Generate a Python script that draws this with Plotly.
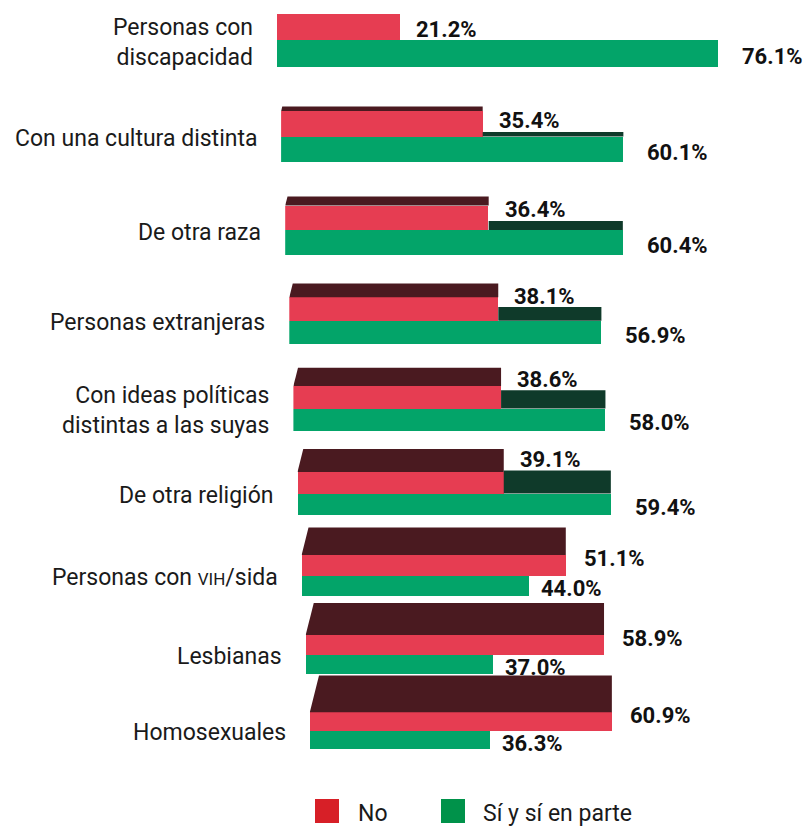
import plotly.graph_objects as go

# ---------------- data ----------------
categories = [
    "Personas con<br>discapacidad",
    "Con una cultura distinta",
    "De otra raza",
    "Personas extranjeras",
    "Con ideas políticas<br>distintas a las suyas",
    "De otra religión",
    "Personas con <span style='font-size:17px'>VIH</span>/sida",
    "Lesbianas",
    "Homosexuales",
]
no_values = [21.2, 35.4, 36.4, 38.1, 38.6, 39.1, 51.1, 58.9, 60.9]
si_values = [76.1, 60.1, 60.4, 56.9, 58.0, 59.4, 44.0, 37.0, 36.3]
series_names = ["No", "Sí y sí en parte"]

# ---------------- style ----------------
W, H = 803, 828
RED = "#E63D52"
RED_TOP = "#4A1A20"
GREEN = "#03A469"
GREEN_TOP = "#0F3A2A"
LEG_RED = "#D71F27"
LEG_GREEN = "#00924A"
FONT = "Roboto"
X_MAX = 80

fig = go.Figure()
layout_axes = {}
annotations = []


def top_face(x_start, value, y_front, depth, slant, color, xa, ya):
    """Visible part of the top face of a 3-D bar, in the row's data coordinates."""
    return go.Scatter(
        x=[x_start, value, value, x_start + slant, x_start],
        y=[y_front, y_front, y_front - depth, y_front - depth, y_front],
        mode="lines", fill="toself", fillcolor=color, line=dict(width=0),
        xaxis=xa, yaxis=ya, showlegend=False, hoverinfo="skip",
    )


for i, (cat, nv, sv) in enumerate(zip(categories, no_values, si_values)):
    # perspective: rows drift right, shrink and show a deeper top face further down
    left_px = 277 + 4.1 * i
    scale = 5.8 - 0.105 * i          # pixels per percentage point
    yb = 40 + 96.5 * i - 1.45 * i * (i - 1)
    h = 26.5 - i
    d = 4.6 * i
    slant = 0.25 * d / scale
    sfx = "" if i == 0 else str(i + 1)
    xa, ya = "x" + sfx, "y" + sfx
    layout_axes["xaxis" + sfx] = dict(
        domain=[left_px / W, (left_px + X_MAX * scale) / W],
        range=[0, X_MAX], visible=False, anchor=ya, fixedrange=True,
    )
    layout_axes["yaxis" + sfx] = dict(
        domain=[0, 1], range=[H, 0], visible=False, anchor=xa, fixedrange=True,
    )

    common = dict(orientation="h", xaxis=xa, yaxis=ya, showlegend=False,
                  hoverinfo="skip", marker_line_width=0)
    fig.add_trace(go.Bar(x=[sv], y=[yb + h / 2], width=[h],
                         marker_color=GREEN, **common))
    fig.add_trace(go.Bar(x=[nv], y=[yb - h / 2], width=[h],
                         marker_color=RED, **common))
    if d > 0:
        # green top face only shows where the green bar sticks out past the red one
        if sv > nv:
            fig.add_trace(top_face(nv, sv, yb, d, 0, GREEN_TOP, xa, ya))
        fig.add_trace(top_face(0, nv, yb - h, d, slant, RED_TOP, xa, ya))

    # value labels
    if sv > nv:
        red_lab_y, green_shift, red_shift = yb - d - 11, 22, 14
    else:
        red_lab_y, green_shift, red_shift = yb - h + 3, 10, 16
    annotations.append(dict(
        x=nv, y=red_lab_y, xref=xa, yref=ya,
        text=f"<b>{nv:.1f}%</b>", showarrow=False, xanchor="left", yanchor="middle",
        xshift=red_shift, font=dict(family=FONT, size=22, color="#111111")))
    annotations.append(dict(
        x=sv, y=yb + h / 2 + 3, xref=xa, yref=ya,
        text=f"<b>{sv:.1f}%</b>", showarrow=False, xanchor="left", yanchor="middle",
        xshift=green_shift,
        font=dict(family=FONT, size=22, color="#111111")))
    # category label
    annotations.append(dict(
        x=0, y=yb + 2, xref=xa, yref=ya, text=cat, showarrow=False,
        xanchor="right", yanchor="middle", align="right", xshift=-22,
        font=dict(family=FONT, size=23, color="#1a1a1a")))

# legend (drawn manually to match the large square swatches)
leg_items = [(series_names[0], LEG_RED, 315, 356), (series_names[1], LEG_GREEN, 441, 481)]
shapes = []
for name, col, sx, tx in leg_items:
    shapes.append(dict(type="rect", xref="paper", yref="paper",
                       x0=sx / W, x1=(sx + 24) / W,
                       y0=1 - 823 / H, y1=1 - 799 / H,
                       fillcolor=col, line_width=0))
    annotations.append(dict(x=tx / W, y=1 - 813 / H, xref="paper", yref="paper",
                            text=name, showarrow=False, xanchor="left", yanchor="middle",
                            font=dict(family=FONT, size=23, color="#1a1a1a")))

fig.update_layout(
    width=W, height=H,
    margin=dict(l=0, r=0, t=0, b=0),
    paper_bgcolor="white", plot_bgcolor="rgba(0,0,0,0)",
    barmode="overlay", bargap=0,
    annotations=annotations, shapes=shapes,
    showlegend=False,
    **layout_axes,
)

fig.write_html("out.html", config={"displayModeBar": False})
with open("out.html", encoding="utf-8") as f:
    html = f.read()
html = html.replace("<body>", "<body style=\"margin:0;overflow:hidden\">", 1)
with open("out.html", "w", encoding="utf-8") as f:
    f.write(html)
